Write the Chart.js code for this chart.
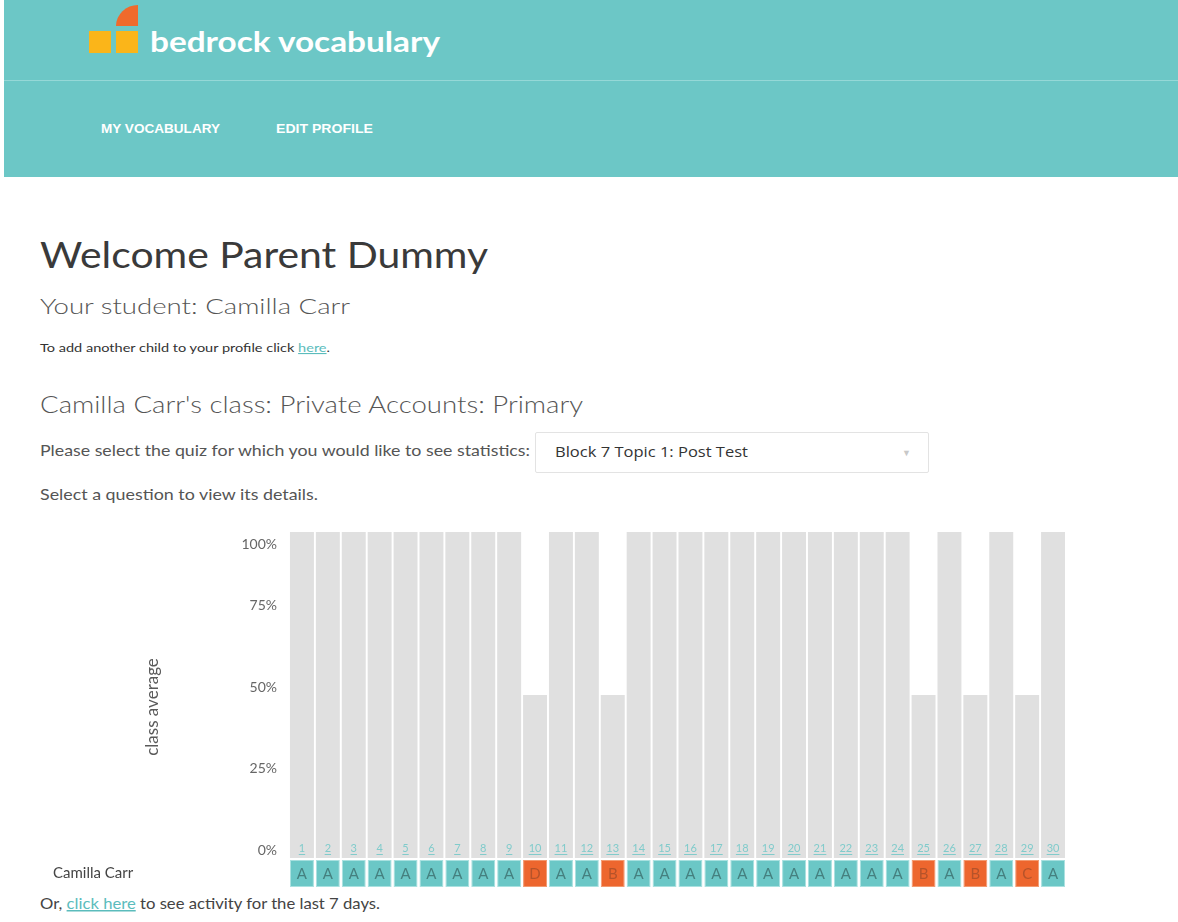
<!DOCTYPE html>
<html><head><meta charset="utf-8">
<script src="https://cdn.jsdelivr.net/npm/chart.js@4.4.0/dist/chart.umd.min.js"></script>
<style>
html,body{margin:0;padding:0;background:#fff}
body{width:1178px;height:922px;overflow:hidden;position:relative;font-family:Lato,"Open Sans",sans-serif}
#hdr{position:absolute;left:4px;top:0;width:1174px;height:177px;background:#6cc7c6}
#hline{position:absolute;left:4px;top:80px;width:1174px;height:1px;background:#95d8d7}
.sq{position:absolute;background:#fbb519}
#q{position:absolute;left:116px;top:5px;width:22px;height:21px;background:#ef6a2c;border-top-left-radius:22px 21px}
#dd{position:absolute;left:535px;top:432px;width:392px;height:39px;border:1px solid #e3e3e3;border-radius:2px;background:#fff}
#txt{position:absolute;left:0;top:0}
#cwrap{position:absolute;left:0;top:500px;width:1178px;height:400px}
</style></head><body>
<div id="hdr"></div><div id="hline"></div>
<div class="sq" style="left:89px;top:31px;width:22px;height:22px"></div>
<div class="sq" style="left:116px;top:31px;width:22px;height:22px"></div>
<div id="q"></div>
<div id="dd"></div>
<svg id="txt" width="1178" height="922" xmlns="http://www.w3.org/2000/svg">
 <text x="150" y="52" font-size="28" font-weight="700" fill="#ffffff" textLength="290" lengthAdjust="spacingAndGlyphs" font-family="Lato">bedrock vocabulary</text>
 <text x="101" y="133" font-size="12.5" font-weight="700" fill="#ffffff" textLength="119" lengthAdjust="spacingAndGlyphs" font-family="Liberation Sans">MY VOCABULARY</text>
 <text x="276" y="133" font-size="12.5" font-weight="700" fill="#ffffff" textLength="97" lengthAdjust="spacingAndGlyphs" font-family="Liberation Sans">EDIT PROFILE</text>
 <text x="40" y="268" font-size="36" fill="#3a3a3a" textLength="448" lengthAdjust="spacingAndGlyphs">Welcome Parent Dummy</text>
 <text x="40" y="314" font-size="22" font-weight="300" fill="#555555" textLength="310" lengthAdjust="spacingAndGlyphs">Your student: Camilla Carr</text>
 <text x="40" y="352" font-size="11" fill="#333333" textLength="290" lengthAdjust="spacingAndGlyphs">To add another child to your profile click <tspan fill="#5bbcbc" text-decoration="underline">here</tspan>.</text>
 <text x="40" y="413" font-size="23" font-weight="300" fill="#555555" textLength="543" lengthAdjust="spacingAndGlyphs">Camilla Carr's class: Private Accounts: Primary</text>
 <text x="40" y="456" font-size="15" fill="#555555" textLength="490" lengthAdjust="spacingAndGlyphs">Please select the quiz for which you would like to see statistics:</text>
 <text x="555" y="457" font-size="14" fill="#333333" textLength="193" lengthAdjust="spacingAndGlyphs" font-family="Open Sans">Block 7 Topic 1: Post Test</text>
 <text x="902" y="456" font-size="9" fill="#c8c8c8">▼</text>
 <text x="40" y="500" font-size="15" fill="#555555" textLength="278" lengthAdjust="spacingAndGlyphs">Select a question to view its details.</text>
 <text x="40" y="909" font-size="15" fill="#444444" textLength="340" lengthAdjust="spacingAndGlyphs">Or, <tspan fill="#5bbcbc" text-decoration="underline">click here</tspan> to see activity for the last 7 days.</text>
</svg>
<div id="cwrap"><canvas id="c"></canvas></div>
<script>
// ---- data ----
const questions = ['1','2','3','4','5','6','7','8','9','10','11','12','13','14','15','16','17','18','19','20','21','22','23','24','25','26','27','28','29','30'];
const classAverage = [100,100,100,100,100,100,100,100,100,50,100,100,50,100,100,100,100,100,100,100,100,100,100,100,50,100,50,100,50,100];
const studentGrades = ['A','A','A','A','A','A','A','A','A','D','A','A','B','A','A','A','A','A','A','A','A','A','A','A','B','A','B','A','C','A'];
const yTickValues = [0,25,50,75,100];
const yTickLabels = ['0%','25%','50%','75%','100%'];
const studentName = 'Camilla Carr';
const yTitle = 'class average';

// layout constants (styling only)
const CELL_TOP = -0.6, CELL_BOTTOM = -8.9;
const TEAL = '#6bc7c6', ORANGE = '#ed662e';

const overlay = {
  id:'overlay',
  afterDatasetsDraw(chart){
    const ctx = chart.ctx, y = chart.scales.y, area = chart.chartArea;
    const bars = chart.getDatasetMeta(0).data;
    const cells = chart.getDatasetMeta(1).data;
    ctx.save();
    ctx.font = '11px Lato';
    ctx.textAlign = 'center'; ctx.textBaseline = 'alphabetic';
    const base0 = y.getPixelForValue(0);
    bars.forEach((b,i)=>{
      const t = questions[i];
      ctx.fillStyle = '#80cbcb';
      ctx.fillText(t, b.x, base0 - 6);
      const w = ctx.measureText(t).width;
      ctx.fillRect(b.x - w/2, base0 - 4, w, 1);
    });
    ctx.font = '15px Lato';
    ctx.textBaseline = 'middle';
    cells.forEach((c,i)=>{
      const g = studentGrades[i];
      ctx.fillStyle = g==='A' ? '#45807f' : '#b5532a';
      ctx.fillText(g, c.x, (c.y + c.base)/2 + 1);
    });
    ctx.font = '14px Lato';
    ctx.fillStyle = '#666';
    ctx.textAlign = 'right';
    yTickValues.forEach((v,i)=>{
      const py = y.getPixelForValue(v);
      if (v === 100) { ctx.textBaseline='top'; ctx.fillText(yTickLabels[i], area.left - 12, py + 5); }
      else { ctx.textBaseline='bottom'; ctx.fillText(yTickLabels[i], area.left - 12, py - 1); }
    });
    ctx.save();
    ctx.translate(153, (y.getPixelForValue(100)+y.getPixelForValue(0))/2 + 12);
    ctx.rotate(-Math.PI/2);
    ctx.textAlign='center'; ctx.textBaseline='middle';
    ctx.font = '17px Lato'; ctx.fillStyle='#5a5a5a';
    ctx.fillText(yTitle, 0, 0);
    ctx.restore();
    ctx.font = '15px Lato'; ctx.fillStyle='#444';
    ctx.textAlign='left'; ctx.textBaseline='middle';
    ctx.fillText(studentName, 53, (y.getPixelForValue(CELL_TOP)+y.getPixelForValue(CELL_BOTTOM))/2);
    ctx.restore();
  }
};

new Chart(document.getElementById('c'), {
  type:'bar',
  data:{
    labels: questions,
    datasets:[
      { label:'class average', data: classAverage, backgroundColor:'#e0e0e0', borderWidth:0,
        grouped:false, categoryPercentage:1, barPercentage:0.925 },
      { label: studentName, data: studentGrades.map(()=>[CELL_BOTTOM, CELL_TOP]),
        backgroundColor: studentGrades.map(g=> g==='A'?TEAL:ORANGE),
        borderColor: studentGrades.map(g=> g==='A'?'#a9e1e0':'#f29a70'), borderWidth:1, borderSkipped:false,
        grouped:false, categoryPercentage:1, barPercentage:0.925 }
    ]
  },
  options:{
    responsive:true, maintainAspectRatio:false, animation:false,
    layout:{padding:{left:289, right:112, top:32, bottom:13}},
    plugins:{legend:{display:false}, tooltip:{enabled:false}},
    scales:{
      x:{display:false},
      y:{display:false, min:CELL_BOTTOM, max:100}
    }
  },
  plugins:[overlay]
});
</script>
</body></html>
